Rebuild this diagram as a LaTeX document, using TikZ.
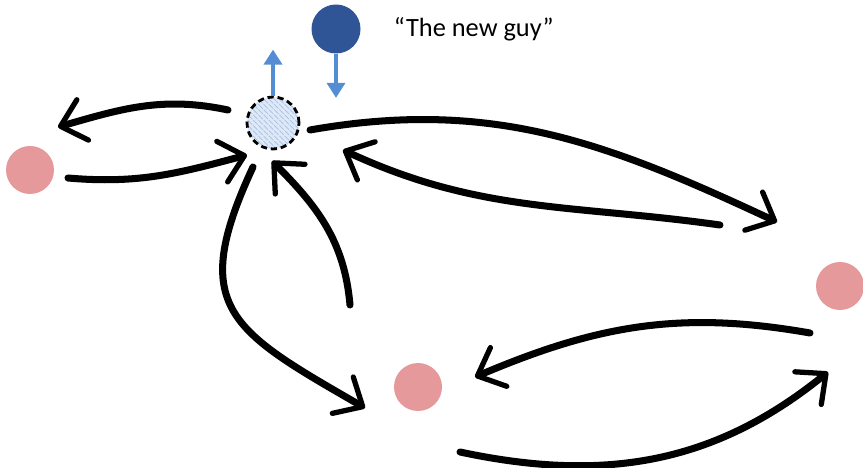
\documentclass[tikz,border=0pt]{standalone}
\usepackage{fontspec}
\setmainfont{Carlito}
\usetikzlibrary{positioning, arrows.meta, patterns}
\definecolor{guyblue}{RGB}{47,85,151}
\definecolor{moveblue}{RGB}{84,141,212}
\definecolor{peer}{RGB}{230,153,154}
\definecolor{spotfill}{RGB}{222,232,246}
\definecolor{spotline}{RGB}{165,192,232}

\begin{document}
\begin{tikzpicture}[peernode/.style={circle,fill=peer,minimum size=9.6mm,inner sep=0pt},
    brush/.style={line width=4pt,line cap=round,-{Straight Barb[length=4.6mm,width=8.4mm,line width=3pt,round]}},
    move/.style={moveblue,line width=2pt,-{Triangle[length=3mm,width=3.6mm]}}]
    \useasboundingbox (0,0) rectangle (17.26,-9.36);
    % el hueco libre y el nuevo
    \node[circle,minimum size=10.4mm,inner sep=0pt,preaction={fill=spotfill},pattern=north west lines,pattern color=spotline,
          draw,line width=1.6pt,dash pattern=on 3.5pt off 2.2pt] (spot) at (5.46,-2.46) {};
    \node[circle,fill=guyblue,minimum size=9.8mm,inner sep=0pt] (guy) at (6.72,-0.58) {};
    \node[right=0.62cm of guy,inner sep=1pt,font=\fontsize{15}{18}\selectfont] (guylabel) {“The new guy”};

    \node[peernode] (left) at (0.60,-3.40) {};
    \node[peernode] (mid) at (8.36,-7.74) {};
    \node[peernode] (right) at (16.80,-5.72) {};

    \coordinate[above=0.92cm of spot] (uptip);
    \coordinate[below=0.88cm of guy] (downtip);
    \draw[move] (spot.north) -- (uptip);
    \draw[move] (guy.south) -- (downtip);

    \draw[brush] ([shift={(-0.90,0.26)}]spot.center) to[out=168,in=16] ([shift={(0.56,0.86)}]left.center);
    \draw[brush] ([shift={(0.76,-0.16)}]left.center) to[out=-5,in=195] ([shift={(-0.52,-0.64)}]spot.center);

    \draw[brush] ([shift={(0.74,-0.14)}]spot.center) to[out=10,in=155] ([shift={(-1.26,1.28)}]right.center);
    \draw[brush] ([shift={(-2.40,1.22)}]right.center) to[out=172,in=335] ([shift={(1.40,-0.54)}]spot.center);

    \draw[brush] ([shift={(-0.40,-0.88)}]spot.center) to[out=245,in=150,looseness=1.5] ([shift={(-1.06,-0.42)}]mid.center);
    \draw[brush] ([shift={(-1.36,1.64)}]mid.center) to[out=95,in=315] ([shift={(-0.02,-0.76)}]spot.center);

    \draw[brush] ([shift={(-0.60,-0.94)}]right.center) to[out=170,in=23] ([shift={(1.14,0.20)}]mid.center);
    \draw[brush] ([shift={(0.84,-1.30)}]mid.center) to[out=-12,in=219] ([shift={(-0.24,-1.72)}]right.center);
\end{tikzpicture}
\end{document}
